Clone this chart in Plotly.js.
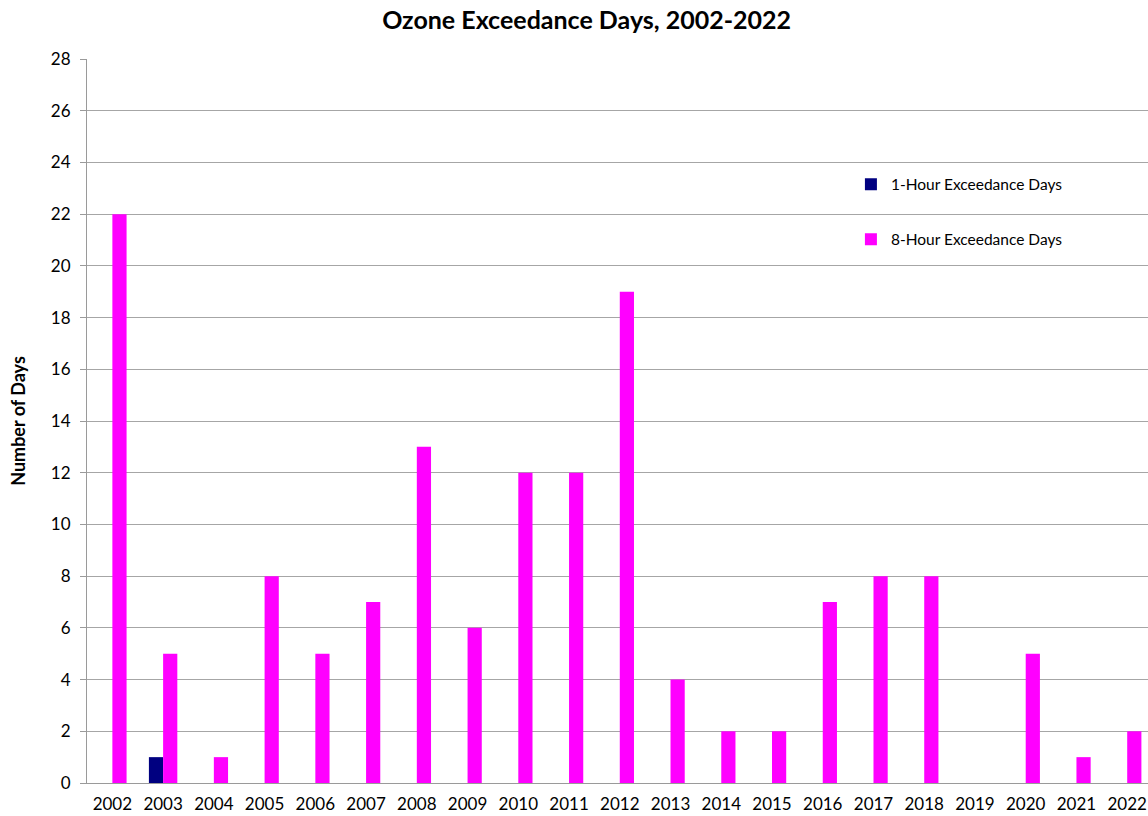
<!DOCTYPE html>
<html>
<head>
<meta charset="utf-8">
<script src="https://cdn.plot.ly/plotly-3.0.1.min.js"></script>
<style>
html,body{margin:0;padding:0;background:#fff;overflow:hidden;}
#chart{width:1148px;height:816px;}
</style>
</head>
<body>
<div id="chart"></div>
<script>
const years = ["2002","2003","2004","2005","2006","2007","2008","2009","2010","2011","2012","2013","2014","2015","2016","2017","2018","2019","2020","2021","2022"];
const oneHour = [0,1,0,0,0,0,0,0,0,0,0,0,0,0,0,0,0,0,0,0,0];
const eightHour = [22,5,1,8,5,7,13,6,12,12,19,4,2,2,7,8,8,0,5,1,2];
const yTicks = [0,2,4,6,8,10,12,14,16,18,20,22,24,26,28];

const FONT = "Lato, 'Open Sans', sans-serif";

const traces = [
  {type:"bar", name:"1-Hour Exceedance Days", x:years, y:oneHour,
   marker:{color:"#000080", line:{width:0}}, legendgroup:"a"},
  {type:"bar", name:"8-Hour Exceedance Days", x:years, y:eightHour,
   marker:{color:"#FF00FF", line:{width:0}}, legendgroup:"b"}
];

const layout = {
  width:1148, height:816,
  margin:{l:87, r:0, t:59, b:33},
  paper_bgcolor:"#ffffff", plot_bgcolor:"#ffffff",
  font:{family:FONT, color:"#000000", size:17},
  title:{text:"<b>Ozone Exceedance Days, 2002-2022</b>", x:0.511, xanchor:"center", y:0.975, yanchor:"middle",
         font:{family:FONT, size:25, color:"#000000"}},
  barmode:"group", bargap:0.44, bargroupgap:0,
  xaxis:{type:"category", range:[-0.5,20.41], showgrid:false, showline:true, linecolor:"#9a9a9a", linewidth:1,
         ticks:"", ticklabelstandoff:6, tickfont:{family:FONT, size:17, color:"#000"}, fixedrange:true},
  yaxis:{range:[0,28], tickvals:yTicks, ticktext:yTicks.map(String), showgrid:true, gridcolor:"#a6a6a6", gridwidth:1,
         showline:true, linecolor:"#9a9a9a", linewidth:1, ticks:"outside", ticklen:6, tickcolor:"#9a9a9a",
         ticklabelstandoff:6,
         tickfont:{family:FONT, size:17, color:"#000"}, zeroline:false,
         title:{text:"<b>Number of Days</b>", standoff:20, font:{family:FONT, size:18, color:"#000"}}},
  showlegend:true,
  legend:{x:0.72, y:0.85, xanchor:"left", yanchor:"top", bgcolor:"rgba(0,0,0,0)",
          traceorder:"grouped", tracegroupgap:32, font:{family:FONT, size:15.5, color:"#000"}, itemwidth:30}
};

Plotly.newPlot("chart", traces, layout, {displayModeBar:false, staticPlot:true});
</script>
</body>
</html>
